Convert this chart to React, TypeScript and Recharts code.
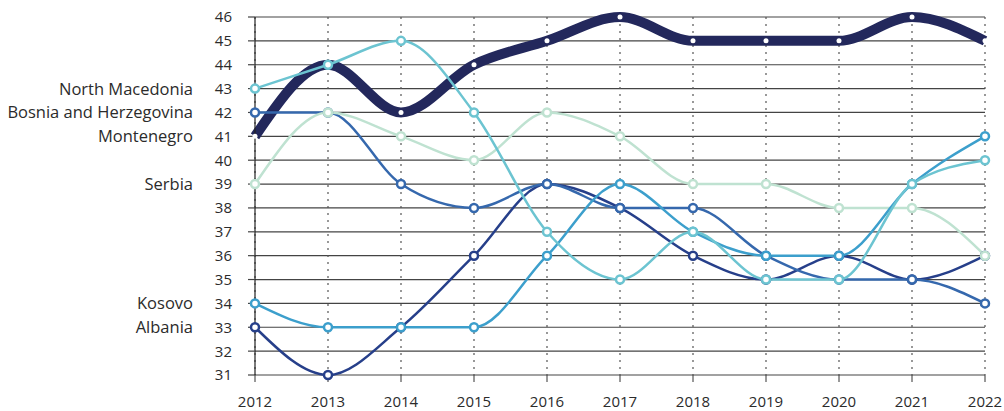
import { LineChart, Line, XAxis, YAxis, CartesianGrid } from "recharts";

const years = ["2012", "2013", "2014", "2015", "2016", "2017", "2018", "2019", "2020", "2021", "2022"];
const montenegro = [41, 44, 42, 44, 45, 46, 45, 45, 45, 46, 45];
const albania = [33, 31, 33, 36, 39, 38, 36, 35, 36, 35, 36];
const bosnia = [42, 42, 39, 38, 39, 38, 38, 36, 35, 35, 34];
const serbia = [39, 42, 41, 40, 42, 41, 39, 39, 38, 38, 36];
const kosovo = [34, 33, 33, 33, 36, 39, 37, 36, 36, 39, 41];
const northMacedonia = [43, 44, 45, 42, 37, 35, 37, 35, 35, 39, 40];
const yTicks = [31, 32, 33, 34, 35, 36, 37, 38, 39, 40, 41, 42, 43, 44, 45, 46];

// name shown left of the axis, at the country's 2012 value
const startLabels: Record<number, string> = {
    43: "North Macedonia",
    42: "Bosnia and Herzegovina",
    41: "Montenegro",
    39: "Serbia",
    34: "Kosovo",
    33: "Albania"
};

const data = years.map((year, i) => ({
    year,
    montenegro: montenegro[i],
    albania: albania[i],
    bosnia: bosnia[i],
    serbia: serbia[i],
    kosovo: kosovo[i],
    northMacedonia: northMacedonia[i]
}));

const font = "'Open Sans', sans-serif";
const textColor = "#2b2b2b";

function YTick(props: any) {
    const { x, y, payload } = props;
    const name = startLabels[payload.value];
    return (
        <g>
            <text x={x} y={y} dy="0.36em" textAnchor="end" fontSize={15} fontFamily={font} fill={textColor}>
                {payload.value}
            </text>
            {name && (
                <text x={x - 39} y={y} dy="0.36em" textAnchor="end" fontSize={16.5} fontFamily={font} fill={textColor}>
                    {name}
                </text>
            )}
        </g>
    );
}

const series = [
    { key: "montenegro", color: "#23285c", width: 10 },
    { key: "albania", color: "#263f8a", width: 2.5 },
    { key: "bosnia", color: "#3568ad", width: 2.5 },
    { key: "serbia", color: "#bfe2d1", width: 2.5 },
    { key: "kosovo", color: "#3c9fcc", width: 2.5 },
    { key: "northMacedonia", color: "#6cc4d1", width: 2.5 }
];

export default function App() {
    return (
        <div style={{ position: "absolute", left: 0, top: 0 }}>
            <LineChart width={1004} height={411} data={data} margin={{ top: 17, right: 19, bottom: 0, left: 0 }}>
                <CartesianGrid vertical={false} stroke="#444" strokeWidth={1.2} />
                <CartesianGrid horizontal={false} stroke="#555" strokeDasharray="2 5" strokeWidth={1.2} />
                <XAxis
                    dataKey="year"
                    height={36}
                    tickSize={7}
                    tickMargin={14}
                    axisLine={false}
                    tickLine={{ stroke: "#333" }}
                    tick={{ fill: textColor, fontSize: 15, fontFamily: font }}
                />
                <YAxis
                    width={255}
                    domain={[31, 46]}
                    ticks={yTicks}
                    interval={0}
                    tickSize={7}
                    tickMargin={16}
                    axisLine={{ stroke: "#222", strokeWidth: 1.2 }}
                    tickLine={{ stroke: "#444", strokeWidth: 1.2 }}
                    tick={<YTick />}
                />
                {series.map((s) => (
                    <Line
                        key={s.key}
                        type="monotone"
                        dataKey={s.key}
                        stroke={s.color}
                        strokeWidth={s.width}
                        isAnimationActive={false}
                        dot={
                            s.key === "montenegro"
                                ? { r: 2.5, fill: "#fff", stroke: "none" }
                                : { r: 4, fill: "#fff", stroke: s.color, strokeWidth: 2.5 }
                        }
                        activeDot={false}
                    />
                ))}
            </LineChart>
        </div>
    );
}
